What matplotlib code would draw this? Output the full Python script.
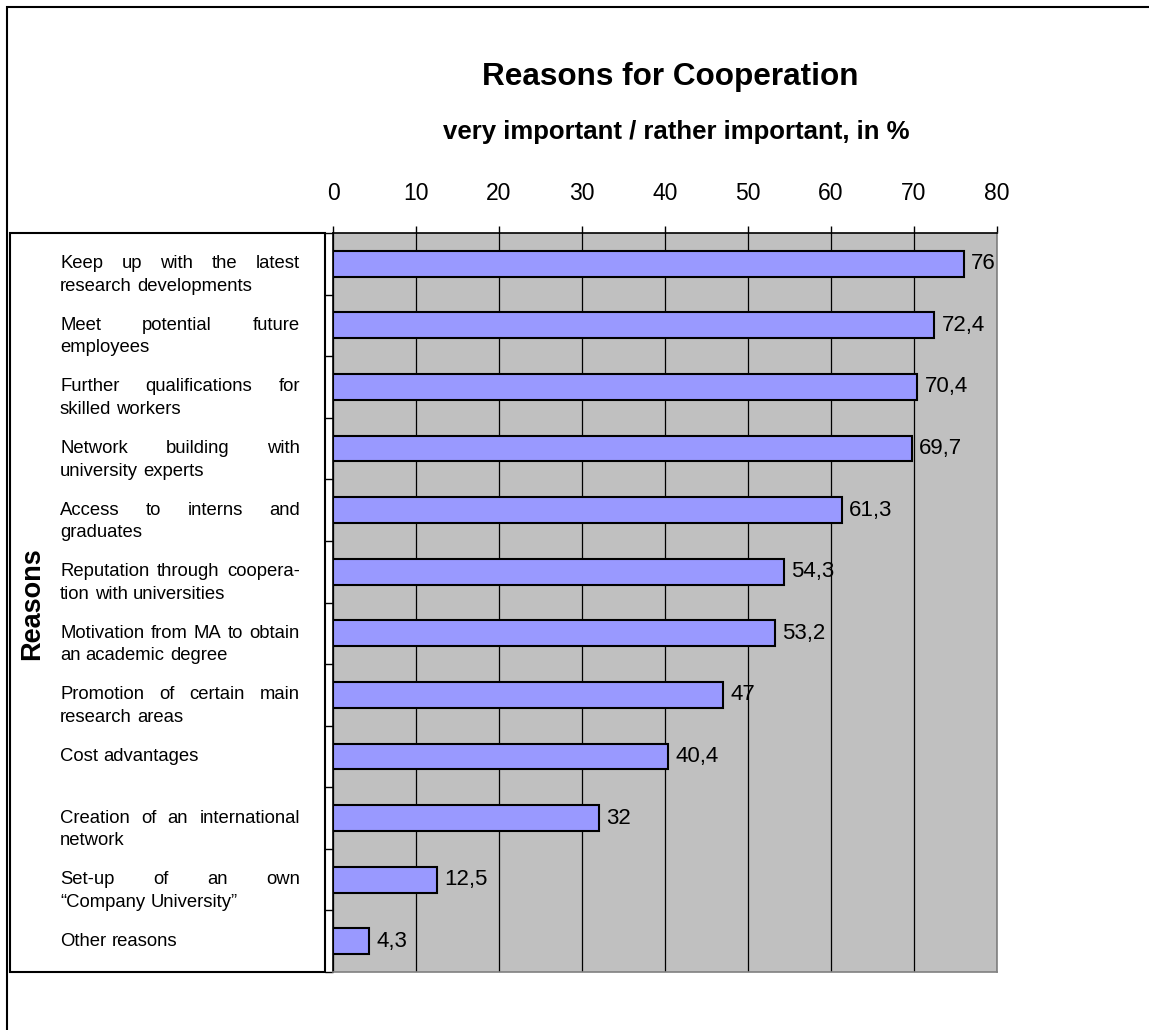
import matplotlib.pyplot as plt
from matplotlib.patches import Rectangle

reasons = [
    "Keep up with the latest\nresearch developments",
    "Meet potential future\nemployees",
    "Further qualifications for\nskilled workers",
    "Network building with\nuniversity experts",
    "Access to interns and\ngraduates",
    "Reputation through coopera-\ntion with universities",
    "Motivation from MA to obtain\nan academic degree",
    "Promotion of certain main\nresearch areas",
    "Cost advantages",
    "Creation of an international\nnetwork",
    "Set-up of an own\n\u201cCompany University\u201d",
    "Other reasons",
]
values = [76, 72.4, 70.4, 69.7, 61.3, 54.3, 53.2, 47, 40.4, 32, 12.5, 4.3]
value_labels = ["76", "72,4", "70,4", "69,7", "61,3", "54,3", "53,2", "47", "40,4", "32", "12,5", "4,3"]
x_ticks = [0, 10, 20, 30, 40, 50, 60, 70, 80]

plt.rcParams['font.family'] = ['Liberation Sans', 'DejaVu Sans']

W, H = 1149, 1030
fig = plt.figure(figsize=(W / 100, H / 100), dpi=100)


def fx(px):
    return px / W


def fy(py):
    return 1 - py / H


# outer frame (left and top edges visible)
fig.patches.append(Rectangle((fx(7), -0.1), 1.2, fy(7) + 0.1, transform=fig.transFigure,
                             fill=False, edgecolor='black', linewidth=1.5))

ax = fig.add_axes([fx(333), fy(972), fx(997) - fx(333), fy(233) - fy(972)])
ax.set_facecolor('#C0C0C0')

n = len(values)
pos = list(range(n))
ax.barh(pos, values, height=0.42, color='#9999FF', edgecolor='black', linewidth=1.5, zorder=3)
for p, v, lab in zip(pos, values, value_labels):
    ax.text(v + 0.9, p, lab, va='center', ha='left', fontsize=16, zorder=4)

ax.set_xlim(0, 80)
ax.set_ylim(n - 0.5, -0.5)
ax.xaxis.tick_top()
ax.set_xticks(x_ticks)
ax.set_xticklabels([str(t) for t in x_ticks], fontsize=16.5)
ax.tick_params(axis='x', direction='out', length=5, pad=15, width=1)
ax.set_yticks([i - 0.5 for i in range(n + 1)])
ax.set_yticklabels([])
ax.tick_params(axis='y', direction='out', length=6, width=1)
ax.grid(axis='x', color='black', linewidth=0.9, zorder=1)
ax.set_axisbelow(True)
ax.spines['top'].set_color('black')
ax.spines['left'].set_color('black')
ax.spines['right'].set_color('#808080')
ax.spines['bottom'].set_color('#808080')
for s in ax.spines.values():
    s.set_linewidth(1.2)

# label box
fig.patches.append(Rectangle((fx(10), fy(972)), fx(325) - fx(10), fy(233) - fy(972),
                             transform=fig.transFigure, fill=False, edgecolor='black', linewidth=1.5))
fig.text(fx(32), fy(604), "Reasons", rotation=90, ha='center', va='center',
         fontsize=19.5, fontweight='bold')

fig.text(fx(670), fy(77), "Reasons for Cooperation", ha='center', va='center',
         fontsize=22.7, fontweight='bold')
fig.text(fx(676), fy(132), "very important / rather important, in %", ha='center', va='center',
         fontsize=18.5, fontweight='bold')

# category labels, first line of two-line labels justified (like the word processor did)
fig.canvas.draw()
renderer = fig.canvas.get_renderer()
left_px, right_px = 60, 300
line_gap = 22.5
label_size = 13.3
space = 0.278 * label_size * 100 / 72
for p, lab in zip(pos, reasons):
    yc = ax.transData.transform((0, p))[1]
    ypx = H - yc
    lines = lab.split('\n')
    for k, line in enumerate(lines):
        y = fy(ypx + k * line_gap)
        words = line.split(' ')
        objs = [fig.text(0, y, w, fontsize=label_size, va='center', ha='left') for w in words]
        widths = [o.get_window_extent(renderer).width for o in objs]
        if k == 0 and len(lines) > 1 and len(words) > 1:
            gap = (right_px - left_px - sum(widths)) / (len(words) - 1)
        else:
            gap = space
        x = left_px
        for o, wd in zip(objs, widths):
            o.set_x(fx(x))
            x += wd + gap

fig.savefig('out.png', dpi=100)
